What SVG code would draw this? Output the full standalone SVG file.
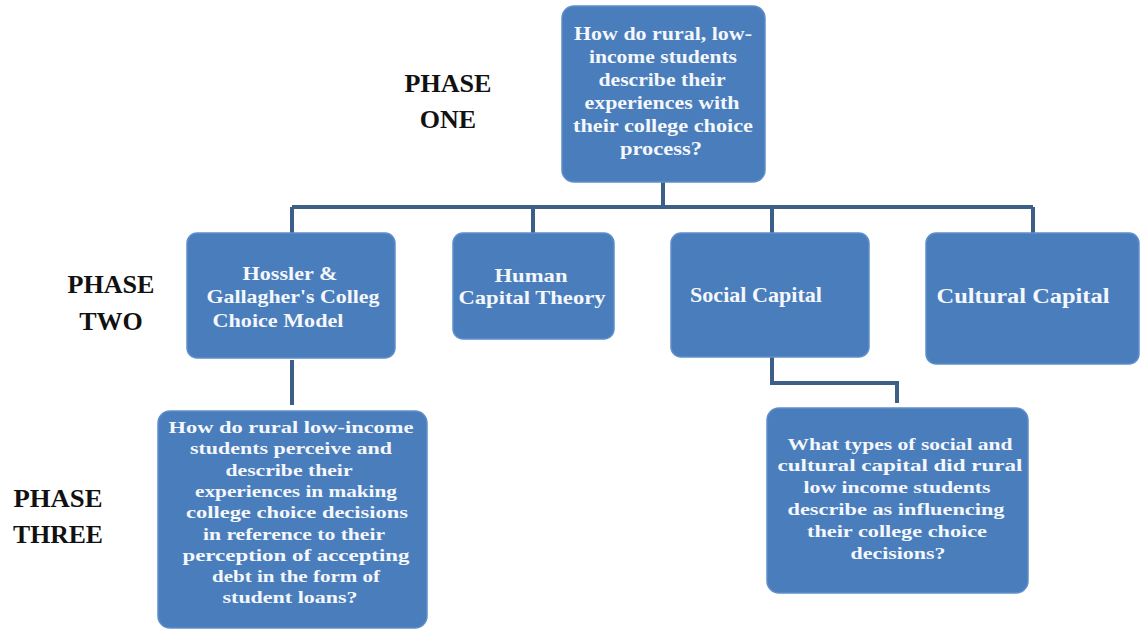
<svg xmlns="http://www.w3.org/2000/svg" width="1143" height="634" viewBox="0 0 1143 634">
<style>
.box{fill:#4a7dbb;stroke:#5e8fca;stroke-width:1.5}
.t{font-family:"Liberation Serif","Times New Roman",serif;font-weight:bold;font-size:17px;fill:#f4f7fb;text-anchor:middle}
.t18{font-size:18px}
.t19{font-size:19px}
.t21{font-size:21px}
.ph{font-family:"Liberation Serif","Times New Roman",serif;font-weight:bold;font-size:26px;fill:#111;text-anchor:middle}
.c{fill:none;stroke:#3d5e86;stroke-width:4}
</style>
<rect width="1143" height="634" fill="#fff"/>
<g id="connectors">
<path class="c" d="M663,182 V207 M292,207 H1033 M292,207 V233 M533,207 V233 M772,207 V233 M1033,207 V233"/>
<path class="c" d="M292,360 V405"/>
<path class="c" d="M772,357 V383 H897 V403"/>
</g>
<g id="labels">
<text class="ph" x="448" y="92" textLength="87" lengthAdjust="spacingAndGlyphs">PHASE</text>
<text class="ph" x="448" y="128">ONE</text>
<text class="ph" x="111" y="293" textLength="87" lengthAdjust="spacingAndGlyphs">PHASE</text>
<text class="ph" x="111" y="330">TWO</text>
<text class="ph" x="58" y="507" textLength="89" lengthAdjust="spacingAndGlyphs">PHASE</text>
<text class="ph" x="58" y="543" textLength="90" lengthAdjust="spacingAndGlyphs">THREE</text>
</g>
<g id="n-root">
<rect class="box" x="562" y="6" width="203" height="176" rx="12"/>
<text class="t t18" x="663" y="40" textLength="178" lengthAdjust="spacingAndGlyphs">How do rural, low-</text>
<text class="t t18" x="663" y="63" textLength="148" lengthAdjust="spacingAndGlyphs">income students</text>
<text class="t t18" x="662" y="86" textLength="127" lengthAdjust="spacingAndGlyphs">describe their</text>
<text class="t t18" x="662" y="109" textLength="155" lengthAdjust="spacingAndGlyphs">experiences with</text>
<text class="t t18" x="663" y="132" textLength="180" lengthAdjust="spacingAndGlyphs">their college choice</text>
<text class="t t18" x="661" y="155" textLength="82" lengthAdjust="spacingAndGlyphs">process?</text>
</g>
<g id="n-hossler">
<rect class="box" x="187" y="233" width="208" height="125" rx="10"/>
<text class="t t19" x="290" y="280" textLength="95" lengthAdjust="spacingAndGlyphs">Hossler &amp;</text>
<text class="t t19" x="293" y="303" textLength="173" lengthAdjust="spacingAndGlyphs">Gallagher's Colleg</text>
<text class="t t19" x="278" y="327" textLength="131" lengthAdjust="spacingAndGlyphs">Choice Model</text>
</g>
<g id="n-human">
<rect class="box" x="453" y="233" width="161" height="106" rx="10"/>
<text class="t t19" x="531" y="282" textLength="73" lengthAdjust="spacingAndGlyphs">Human</text>
<text class="t t19" x="532" y="304" textLength="147" lengthAdjust="spacingAndGlyphs">Capital Theory</text>
</g>
<g id="n-social">
<rect class="box" x="671" y="233" width="198" height="124" rx="10"/>
<text class="t t21" x="756" y="302" textLength="132" lengthAdjust="spacingAndGlyphs">Social Capital</text>
</g>
<g id="n-cultural">
<rect class="box" x="926" y="233" width="213" height="131" rx="10"/>
<text class="t t21" x="1023" y="303" textLength="173" lengthAdjust="spacingAndGlyphs">Cultural Capital</text>
</g>
<g id="n-q1">
<rect class="box" x="158" y="411" width="269" height="217" rx="12"/>
<text class="t" x="291" y="433" textLength="245" lengthAdjust="spacingAndGlyphs">How do rural low-income</text>
<text class="t" x="291" y="454" textLength="202" lengthAdjust="spacingAndGlyphs">students  perceive and</text>
<text class="t" x="289" y="476" textLength="127" lengthAdjust="spacingAndGlyphs">describe their</text>
<text class="t" x="296" y="497" textLength="202" lengthAdjust="spacingAndGlyphs">experiences in making</text>
<text class="t" x="297" y="518" textLength="222" lengthAdjust="spacingAndGlyphs">college choice decisions</text>
<text class="t" x="294" y="540" textLength="182" lengthAdjust="spacingAndGlyphs">in reference to their</text>
<text class="t" x="296" y="561" textLength="227" lengthAdjust="spacingAndGlyphs">perception of accepting</text>
<text class="t" x="296" y="582" textLength="168" lengthAdjust="spacingAndGlyphs">debt in the form of</text>
<text class="t" x="290" y="603" textLength="135" lengthAdjust="spacingAndGlyphs">student loans?</text>
</g>
<g id="n-q2">
<rect class="box" x="767" y="408" width="261" height="185" rx="12"/>
<text class="t" x="900" y="450" textLength="225" lengthAdjust="spacingAndGlyphs">What types of social and</text>
<text class="t" x="900" y="471" textLength="245" lengthAdjust="spacingAndGlyphs">cultural capital did rural</text>
<text class="t" x="897" y="493" textLength="187" lengthAdjust="spacingAndGlyphs">low income students</text>
<text class="t" x="896" y="515" textLength="217" lengthAdjust="spacingAndGlyphs">describe as influencing</text>
<text class="t" x="897" y="537" textLength="180" lengthAdjust="spacingAndGlyphs">their college choice</text>
<text class="t" x="898" y="559" textLength="95" lengthAdjust="spacingAndGlyphs">decisions?</text>
</g>
</svg>
